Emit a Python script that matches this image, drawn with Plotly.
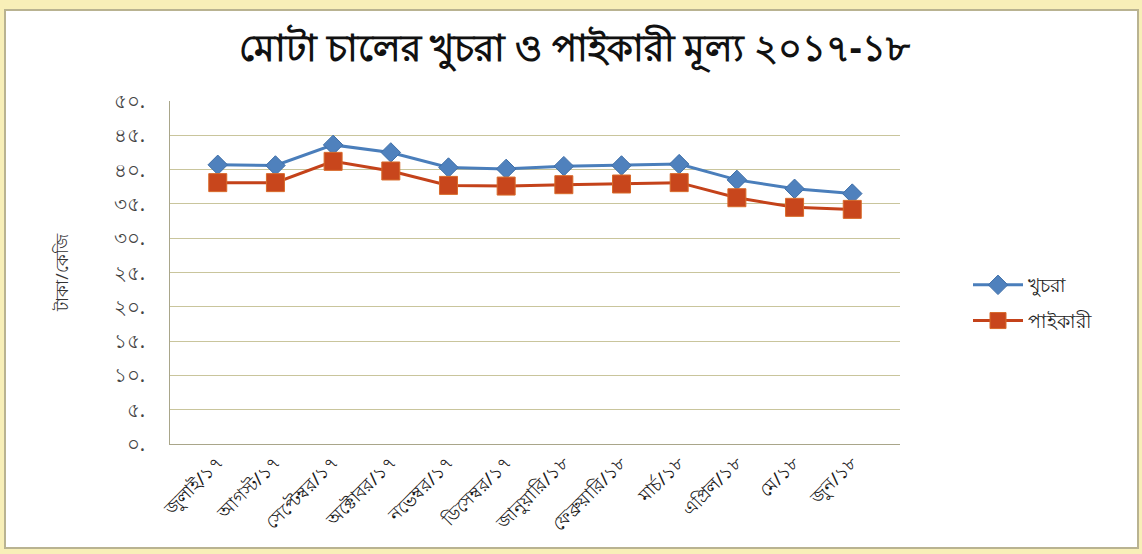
import plotly.graph_objects as go

# Monthly coarse-rice prices (Tk/kg), July 2017 - June 2018
months = ["জুলাই/১৭", "আগস্ট/১৭", "সেপ্টেম্বর/১৭", "অক্টোবর/১৭", "নভেম্বর/১৭",
          "ডিসেম্বর/১৭", "জানুয়ারি/১৮", "ফেব্রুয়ারি/১৮", "মার্চ/১৮", "এপ্রিল/১৮",
          "মে/১৮", "জুন/১৮"]
retail = [40.7, 40.6, 43.6, 42.5, 40.3, 40.1, 40.5, 40.6, 40.8, 38.5, 37.2, 36.5]
wholesale = [38.1, 38.1, 41.2, 39.8, 37.7, 37.6, 37.8, 37.9, 38.1, 35.9, 34.5, 34.2]

tick_vals = [0, 5, 10, 15, 20, 25, 30, 35, 40, 45, 50]
tick_text = ["০.", "৫.", "১০.", "১৫.", "২০.", "২৫.", "৩০.", "৩৫.", "৪০.", "৪৫.", "৫০."]

W, H = 1142, 554
L, R, T, B = 170, 242, 101, 110
pw, ph = W - L - R, H - T - B

def px(x):
    return (x - L) / pw

def py(y):
    return (H - B - y) / ph

font_family = "Noto Sans, DejaVu Sans, sans-serif"

fig = go.Figure()
fig.add_trace(go.Scatter(
    x=months, y=retail, name="খুচরা", mode="lines+markers",
    line=dict(color="#4a7ebb", width=3),
    marker=dict(symbol="diamond", size=15, color="#4f81bd",
                line=dict(color="#3f6fa8", width=1)),
    legendgroup="a",
))
fig.add_trace(go.Scatter(
    x=months, y=wholesale, name="পাইকারী", mode="lines+markers",
    line=dict(color="#c4421a", width=3),
    marker=dict(symbol="square", size=18, color="#c8461c",
                line=dict(color="#d86a2a", width=1)),
    legendgroup="b",
))

fig.update_layout(
    width=W, height=H,
    margin=dict(l=L, r=R, t=T, b=B),
    paper_bgcolor="#f8efb8",
    plot_bgcolor="white",
    font=dict(family=font_family, color="#222222"),
    title=dict(text="<b>মোটা চালের খুচরা ও পাইকারী মূল্য ২০১৭-১৮</b>",
               x=0.503, xanchor="center", y=1 - 48 / H, yanchor="middle",
               font=dict(size=37, color="#111111", family=font_family)),
    showlegend=True,
    legend=dict(x=px(968), y=py(266), xanchor="left", yanchor="top",
                bgcolor="rgba(0,0,0,0)", font=dict(size=19, color="#222222"),
                tracegroupgap=8, itemwidth=50),
    shapes=[dict(type="rect", xref="paper", yref="paper",
                 x0=px(5), x1=px(1138), y0=py(548), y1=py(10),
                 fillcolor="white", line=dict(color="#b9b391", width=2),
                 layer="below")],
)

fig.update_xaxes(
    type="category", showgrid=False, showline=True, linecolor="#a9a68a",
    linewidth=1, tickangle=-45, ticks="", tickfont=dict(size=18, color="#1a1a1a"),
)
fig.update_yaxes(
    range=[0, 50], tickvals=tick_vals, ticktext=tick_text,
    showgrid=True, gridcolor="#c9c59c", gridwidth=1,
    showline=True, linecolor="#a9a68a", linewidth=1, ticks="",
    tickfont=dict(size=20, color="#444444"), ticklabelstandoff=20,
    title=dict(text="টাকা/কেজি", font=dict(size=17, color="#333333"), standoff=40),
)

fig.write_html("out.html")
